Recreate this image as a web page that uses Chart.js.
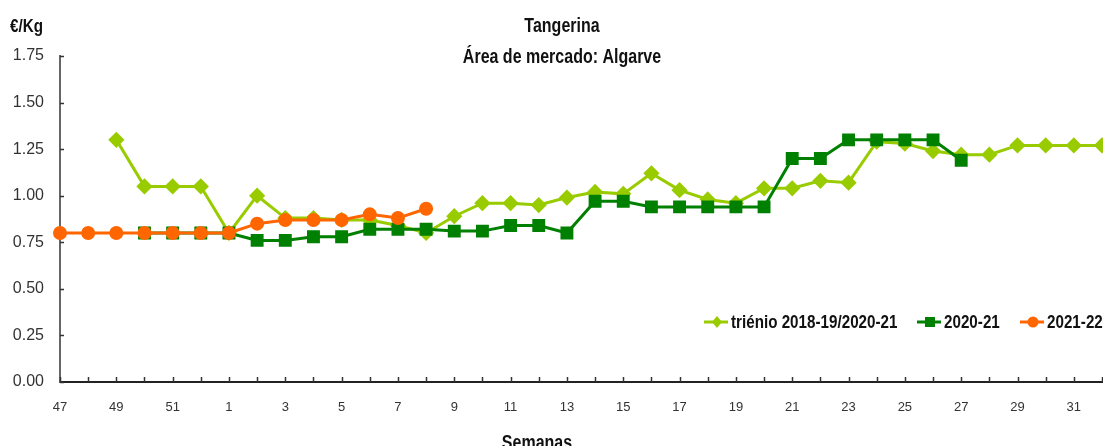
<!DOCTYPE html>
<html>
<head>
<meta charset="utf-8">
<script src="https://cdn.jsdelivr.net/npm/chart.js@4.4.1/dist/chart.umd.min.js"></script>
<style>
  html, body { margin: 0; padding: 0; background: #fff; overflow: hidden; }
  #wrap { position: absolute; left: 0; top: 0; width: 1120px; height: 446px; }
</style>
</head>
<body>
<div id="wrap"><canvas id="chart" width="1120" height="446"></canvas></div>
<script>
// semanas (eixo x)
const semanas = ["47","48","49","50","51","52","1","2","3","4","5","6","7","8","9","10",
  "11","12","13","14","15","16","17","18","19","20","21","22","23","24","25","26",
  "27","28","29","30","31","32"];

// preços €/Kg
const trienio = [null,null,1.30,1.05,1.05,1.05,0.80,1.00,0.88,0.88,0.87,0.87,0.84,0.80,0.89,0.96,
  0.96,0.95,0.99,1.02,1.01,1.12,1.03,0.98,0.96,1.04,1.04,1.08,1.07,1.29,1.28,1.24,
  1.22,1.22,1.27,1.27,1.27,1.27];
const c2020 = [null,null,null,0.80,0.80,0.80,0.80,0.76,0.76,0.78,0.78,0.82,0.82,0.82,0.81,0.81,
  0.84,0.84,0.80,0.97,0.97,0.94,0.94,0.94,0.94,0.94,1.20,1.20,1.30,1.30,1.30,1.30,
  1.19,null,null,null,null,null];
const c2021 = [0.80,0.80,0.80,0.80,0.80,0.80,0.80,0.85,0.87,0.87,0.87,0.90,0.88,0.93,null,null,
  null,null,null,null,null,null,null,null,null,null,null,null,null,null,null,null,
  null,null,null,null,null,null];

const nomes = ["triénio 2018-19/2020-21", "2020-21", "2021-22"];
const cores = ["#99cc00", "#008000", "#ff6600"];

const FONT = '"Liberation Sans", Arial, sans-serif';
const SX = 0.8; // texto mais estreito (tipo Calibri)

function texto(c, s, x, y, size, align) {
  c.save();
  c.font = "bold " + size + "px " + FONT;
  c.textAlign = align;
  c.textBaseline = "middle";
  c.translate(x, y);
  c.scale(SX, 1);
  c.fillText(s, 0, 0);
  c.restore();
}

//  ticks para dentro, títulos e legenda
const extras = {
  id: "extras",
  beforeDatasetsDraw(chart) {
    const { ctx, chartArea: a, scales: { x, y } } = chart;
    ctx.save();
    ctx.strokeStyle = "#333";
    ctx.lineWidth = 1.5;
    y.ticks.forEach((t) => {
      const py = Math.round(y.getPixelForValue(t.value)) + 0.5;
      ctx.beginPath(); ctx.moveTo(a.left, py); ctx.lineTo(a.left + 4, py); ctx.stroke();
    });
    semanas.forEach((s, i) => {
      const px = Math.round(x.getPixelForValue(i)) + 0.5;
      ctx.beginPath(); ctx.moveTo(px, a.bottom); ctx.lineTo(px, a.bottom - 5); ctx.stroke();
    });
    ctx.restore();
  },
  afterDraw(chart) {
    const { ctx } = chart;
    ctx.save();
    ctx.fillStyle = "#111";
    texto(ctx, "Tangerina", 562, 26, 20, "center");
    texto(ctx, "Área de mercado: Algarve", 562, 57, 20, "center");
    texto(ctx, "Semanas", 537, 443, 20, "center");
    texto(ctx, "€/Kg", 10, 27, 19, "left");

    // legenda
    const lx = [717, 930, 1033];
    const ly = 322;
    chart.data.datasets.forEach((ds, i) => {
      const mx = lx[i];
      ctx.strokeStyle = ds.borderColor;
      ctx.lineWidth = 3;
      ctx.beginPath(); ctx.moveTo(mx - 13, ly); ctx.lineTo(mx + 11, ly); ctx.stroke();
      ctx.fillStyle = ds.borderColor;
      ctx.beginPath();
      if (ds.pointStyle === "rectRot") {
        ctx.moveTo(mx, ly - 6); ctx.lineTo(mx + 5, ly); ctx.lineTo(mx, ly + 6); ctx.lineTo(mx - 5, ly);
        ctx.closePath(); ctx.fill();
      } else if (ds.pointStyle === "rect") {
        ctx.fillRect(mx - 5, ly - 5, 10, 10);
      } else {
        ctx.arc(mx, ly, 5.5, 0, Math.PI * 2); ctx.fill();
      }
      ctx.fillStyle = "#111";
      texto(ctx, ds.label, mx + 14, ly + 1, 19, "left");
    });
    ctx.restore();
  }
};

const ctx = document.getElementById("chart").getContext("2d");
const chart = new Chart(ctx, {
  type: "line",
  data: {
    labels: semanas,
    datasets: [
      {
        label: nomes[0], data: trienio, order: 2,
        borderColor: cores[0], backgroundColor: cores[0],
        borderWidth: 3, pointStyle: "rectRot", pointRadius: 6, pointHoverRadius: 6,
        tension: 0
      },
      {
        label: nomes[1], data: c2020, order: 1,
        borderColor: cores[1], backgroundColor: cores[1],
        borderWidth: 3, pointStyle: "rect", pointRadius: 7, pointHoverRadius: 7,
        tension: 0
      },
      {
        label: nomes[2], data: c2021, order: 0,
        borderColor: cores[2], backgroundColor: cores[2],
        borderWidth: 3, pointStyle: "circle", pointRadius: 5.5, pointHoverRadius: 5.5,
        tension: 0
      }
    ]
  },
  options: {
    responsive: false,
    animation: false,
    layout: { padding: { top: 56, right: 12, left: 0, bottom: 0 } },
    plugins: { legend: { display: false }, title: { display: false }, tooltip: { enabled: false } },
    scales: {
      x: {
        offset: false,
        grid: { display: false, drawTicks: false },
        border: { display: true, color: "#222", width: 2 },
        ticks: {
          autoSkip: false, maxRotation: 0, padding: 18, color: "#333",
          font: { family: FONT, size: 13 },
          callback: (v, i) => (i % 2 === 0 ? semanas[i] : "")
        },
        afterFit: (s) => { s.height = 64; }
      },
      y: {
        min: 0, max: 1.75,
        grid: { display: false, drawTicks: false },
        border: { display: true, color: "#666", width: 2 },
        ticks: {
          stepSize: 0.25, padding: 16, color: "#333",
          font: { family: FONT, size: 16 },
          callback: (v) => v.toFixed(2)
        },
        afterFit: (s) => { s.width = 60; }
      }
    }
  },
  plugins: [extras]
});
</script>
</body>
</html>
